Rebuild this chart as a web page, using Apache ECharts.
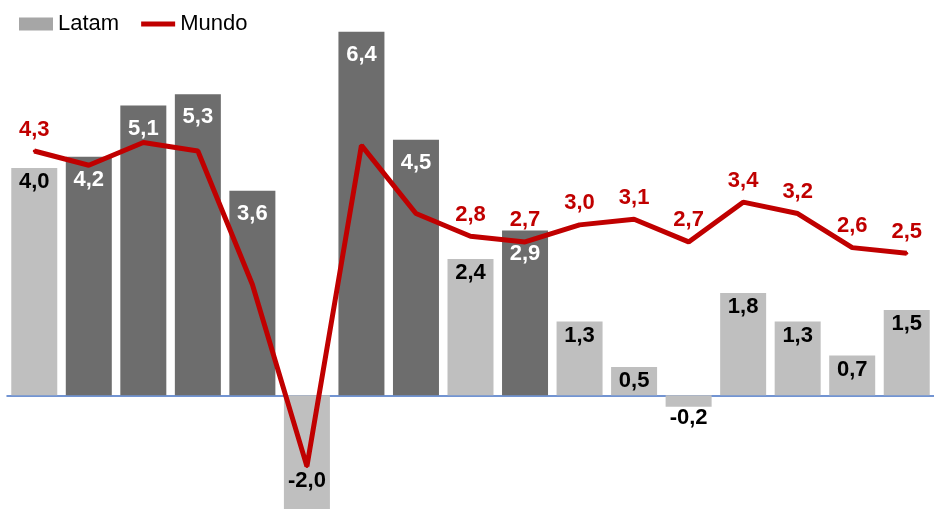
<!DOCTYPE html>
<html>
<head>
<meta charset="utf-8">
<script src="https://cdn.jsdelivr.net/npm/echarts@6/dist/echarts.min.js"></script>
<style>
html,body{margin:0;padding:0;background:#fff;}
#chart{width:934px;height:509px;}
</style>
</head>
<body>
<div id="chart"></div>
<script>
// ---- data ----
var categories = ['1','2','3','4','5','6','7','8','9','10','11','12','13','14','15','16','17'];
var latam = [4.0, 4.2, 5.1, 5.3, 3.6, -2.0, 6.4, 4.5, 2.4, 2.9, 1.3, 0.5, -0.2, 1.8, 1.3, 0.7, 1.5];
var mundo = [4.3, 4.05, 4.45, 4.3, 1.95, -1.25, 4.4, 3.2, 2.8, 2.7, 3.0, 3.1, 2.7, 3.4, 3.2, 2.6, 2.5];
var mundoLabelShown = [0, 8, 9, 10, 11, 12, 13, 14, 15, 16];
var darkBars = [1, 2, 3, 4, 6, 7, 9];

// ---- styling ----
var LIGHT = '#bfbfbf', DARK = '#6d6d6d', RED = '#c00000';
var FONT = '"Liberation Sans", Arial, sans-serif';
function fmt(v){ return v.toFixed(1).replace('.', ','); }

var barData = latam.map(function(v, i){
  var dark = darkBars.indexOf(i) >= 0;
  var item = { value: v, itemStyle: { color: dark ? DARK : LIGHT } };
  var lbl = { color: dark ? '#ffffff' : '#000000' };
  if (v >= 0) { lbl.position = 'insideTop'; lbl.distance = dark ? 12 : 3; }
  else if (v < -1) { lbl.position = 'insideBottom'; lbl.distance = 17; }
  else { lbl.position = 'bottom'; lbl.distance = 0; }
  item.label = lbl;
  return item;
});
var lineData = mundo.map(function(v, i){
  return { value: v, label: { show: mundoLabelShown.indexOf(i) >= 0 } };
});

var chart = echarts.init(document.getElementById('chart'), null, {renderer: 'canvas'});
chart.setOption({
  animation: false,
  backgroundColor: '#ffffff',
  textStyle: { fontFamily: FONT },
  legend: {
    left: 14, top: 8, itemGap: 22, itemWidth: 34, itemHeight: 13,
    textStyle: { fontSize: 22, color: '#000', fontFamily: FONT },
    data: [
      { name: 'Latam', icon: 'rect', itemStyle: { color: '#a6a6a6' } },
      { name: 'Mundo', icon: 'path://M0,0 L34,0 L34,5 L0,5 Z', itemStyle: { color: RED, opacity: 1 } }
    ]
  },
  grid: { left: 7, top: 26, width: 932, height: 488, containLabel: false },
  xAxis: {
    type: 'category', data: categories,
    axisLine: { onZero: true, lineStyle: { color: '#4472c4', width: 1.5 } },
    axisTick: { show: false }, axisLabel: { show: false }, splitLine: { show: false }
  },
  yAxis: {
    type: 'value', min: -2, max: 6.5, show: false, splitLine: { show: false }
  },
  series: [
    {
      name: 'Latam', type: 'bar', data: barData, barWidth: 46, clip: false,
      itemStyle: { color: LIGHT },
      label: { show: true, fontSize: 22, fontWeight: 'bold', fontFamily: FONT,
               formatter: function(p){ return fmt(p.value); } },
      z: 2
    },
    {
      name: 'Mundo', type: 'line', data: lineData, symbol: 'circle', symbolSize: 3, showSymbol: true,
      lineStyle: { color: RED, width: 5 }, itemStyle: { color: RED },
      label: { show: true, position: 'top', distance: 9, color: RED, fontSize: 22,
               fontWeight: 'bold', fontFamily: FONT,
               formatter: function(p){ return fmt(p.value); } },
      z: 3
    }
  ]
});
</script>
</body>
</html>
